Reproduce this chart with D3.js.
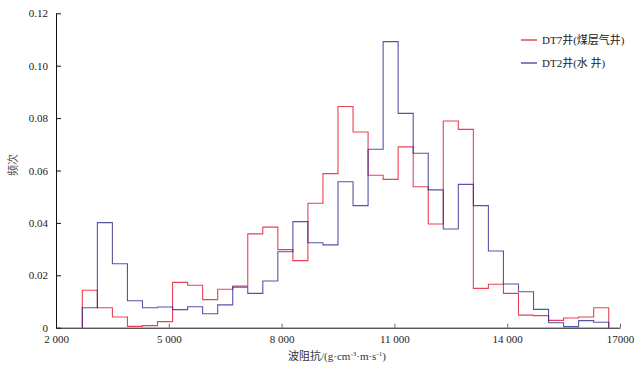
<!DOCTYPE html>
<html>
<head>
<meta charset="utf-8">
<script src="https://cdn.jsdelivr.net/npm/d3@7"></script>
<style>
  body { margin: 0; background: #fff; }
  svg { display: block; }
  .tick text { font-family: "Liberation Serif", "Noto Sans CJK SC", serif; font-size: 11px; fill: #222; }
</style>
</head>
<body>
<svg id="chart" width="643" height="373"></svg>
<script>
// bin edges (g·cm-3·m·s-1), 400 wide
const binEdges = [2700, 3100, 3500, 3900, 4300, 4700, 5100, 5500, 5900, 6300, 6700, 7100,
                  7500, 7900, 8300, 8700, 9100, 9500, 9900, 10300, 10700, 11100, 11500, 11900,
                  12300, 12700, 13100, 13500, 13900, 14300, 14700, 15100, 15500, 15900, 16300, 16700];

// frequency per bin, DT7 (coal-bed methane well)
const dt7 = [0.0143, 0.0076, 0.0041, 0.0005, 0.0008, 0.0023, 0.0173, 0.0162, 0.0107, 0.0147,
             0.0159, 0.0358, 0.0384, 0.0298, 0.0256, 0.0475, 0.0588, 0.0844, 0.0747, 0.0582,
             0.0566, 0.0690, 0.0538, 0.0396, 0.0789, 0.0757, 0.0150, 0.0166, 0.0131, 0.0048,
             0.0046, 0.0028, 0.0037, 0.0041, 0.0076];

// frequency per bin, DT2 (water well)
const dt2 = [0.0076, 0.0401, 0.0244, 0.0103, 0.0076, 0.0079, 0.0069, 0.0080, 0.0053, 0.0087,
             0.0155, 0.0131, 0.0178, 0.0290, 0.0405, 0.0324, 0.0316, 0.0557, 0.0466, 0.0681,
             0.1092, 0.0818, 0.0666, 0.0526, 0.0377, 0.0547, 0.0466, 0.0293, 0.0167, 0.0137,
             0.0070, 0.0019, 0.0004, 0.0027, 0.0021];

const seriesNames = ["DT7井(煤层气井)", "DT2井(水 井)"];
const xTicks = [2000, 5000, 8000, 11000, 14000, 17000];
const xTickLabels = ["2 000", "5 000", "8 000", "11 000", "14 000", "17000"];
const yTicks = [0, 0.02, 0.04, 0.06, 0.08, 0.10, 0.12];
const yTickLabels = ["0", "0.02", "0.04", "0.06", "0.08", "0.10", "0.12"];

const colors = ["#e3001b", "#1c1c8a"];

const svg = d3.select("#chart");

const x = d3.scaleLinear().domain([2000, 17000]).range([56, 620]);
const y = d3.scaleLinear().domain([0, 0.12]).range([327.7, 13.3]);

// x axis, ticks pointing up into the plot
svg.append("g")
   .attr("transform", `translate(0,${y(0)})`)
   .call(d3.axisBottom(x)
          .tickValues(xTicks)
          .tickFormat((d, i) => xTickLabels[i])
          .tickSizeInner(-4)
          .tickSizeOuter(0)
          .tickPadding(8))
   .call(g => g.select(".domain").attr("stroke", "#111"))
   .call(g => g.selectAll(".tick line").attr("stroke", "#666"));

// y axis, ticks pointing right into the plot
svg.append("g")
   .attr("transform", `translate(${x(2000)},0)`)
   .call(d3.axisLeft(y)
          .tickValues(yTicks)
          .tickFormat((d, i) => yTickLabels[i])
          .tickSizeInner(-5)
          .tickSizeOuter(0)
          .tickPadding(8))
   .call(g => g.select(".domain").attr("stroke", "#111"))
   .call(g => g.selectAll(".tick line").attr("stroke", "#111"));

// axis titles
const xTitle = svg.append("text")
   .attr("x", 337)
   .attr("y", 360)
   .attr("text-anchor", "middle")
   .attr("font-family", "'Liberation Serif', 'Noto Sans CJK SC', serif")
   .attr("font-size", 11)
   .attr("fill", "#333");
xTitle.append("tspan").text("波阻抗/(g·cm");
xTitle.append("tspan").attr("font-size", 7).attr("dy", -4).text("-3");
xTitle.append("tspan").attr("dy", 4).text("·m·s");
xTitle.append("tspan").attr("font-size", 7).attr("dy", -4).text("-1");
xTitle.append("tspan").attr("dy", 4).text(")");

svg.append("text")
   .attr("transform", "translate(17,165) rotate(-90)")
   .attr("text-anchor", "middle")
   .attr("font-family", "'Noto Sans CJK SC', sans-serif")
   .attr("font-size", 11)
   .attr("fill", "#555")
   .text("频次");

// step outline for a histogram
function stepPoints(values) {
    const pts = [[binEdges[0], 0]];
    values.forEach((v, i) => {
        pts.push([binEdges[i], v]);
        pts.push([binEdges[i + 1], v]);
    });
    pts.push([binEdges[binEdges.length - 1], 0]);
    return pts;
}

const line = d3.line()
               .x(d => x(d[0]))
               .y(d => y(d[1]));

[dt7, dt2].forEach((vals, i) => {
    svg.append("path")
       .datum(stepPoints(vals))
       .attr("d", line)
       .attr("fill", "none")
       .attr("stroke", colors[i])
       .attr("stroke-opacity", 0.75)
       .attr("stroke-width", 1.1);
});

// legend
const legend = svg.append("g")
                  .selectAll("g")
                  .data(seriesNames)
                  .enter().append("g")
                  .attr("transform", (d, i) => `translate(521,${40 + i * 23})`);

legend.append("line")
      .attr("x1", 0).attr("x2", 16)
      .attr("stroke", (d, i) => colors[i])
      .attr("stroke-width", 1.1);

legend.append("text")
      .attr("x", 21)
      .attr("dy", "0.35em")
      .attr("font-family", "'Liberation Serif', 'Noto Sans CJK SC', serif")
      .attr("font-size", 11)
      .attr("fill", "#222")
      .text(d => d);
</script>
</body>
</html>
